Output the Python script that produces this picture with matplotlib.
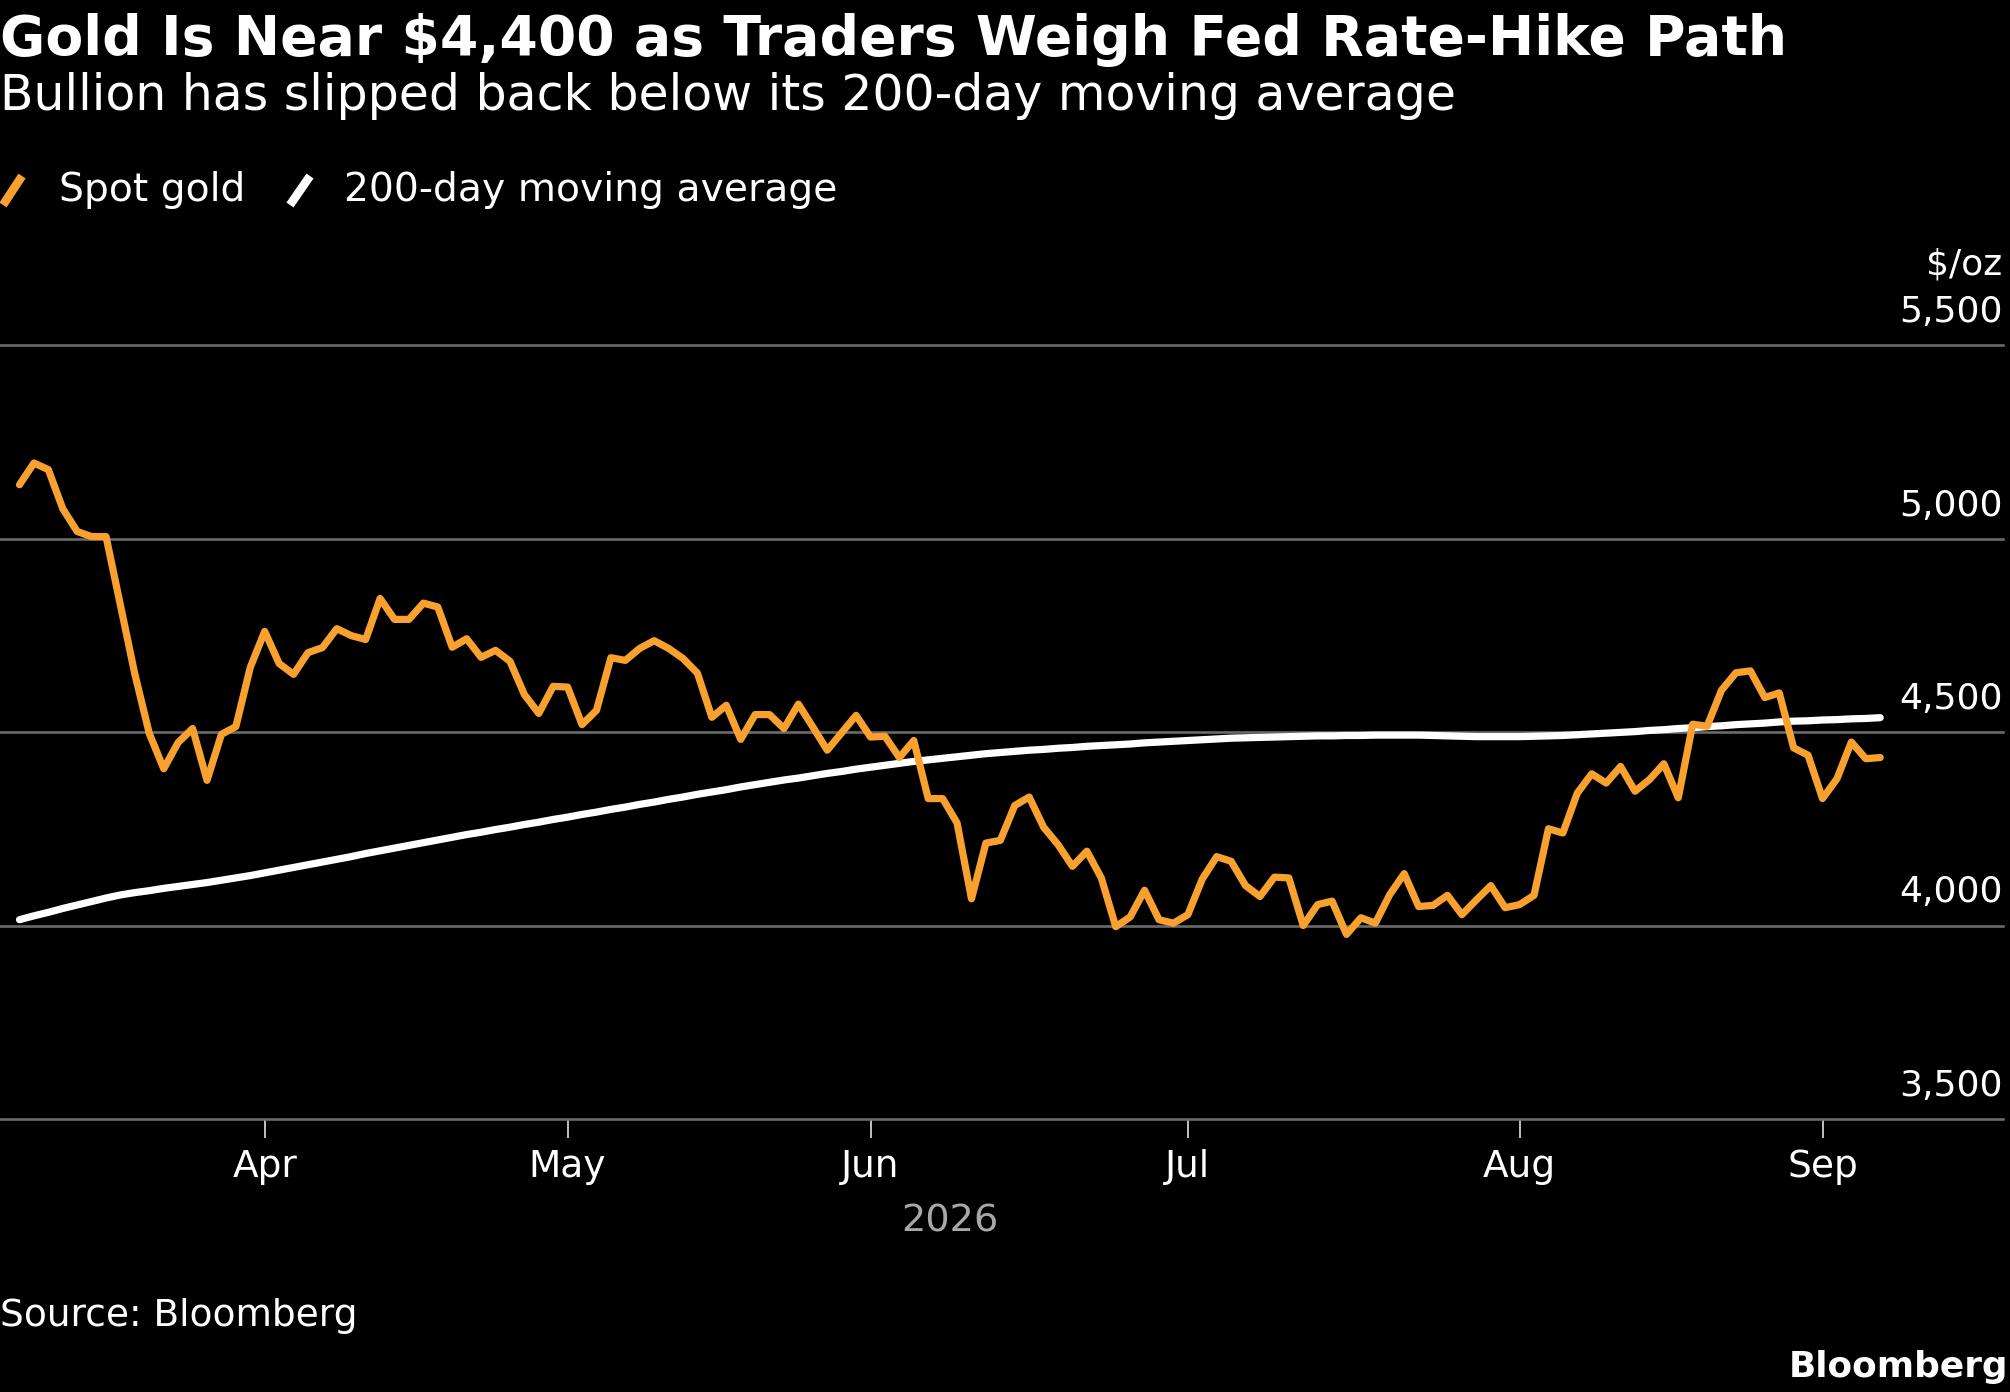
import matplotlib
matplotlib.use("Agg")
import matplotlib.pyplot as plt
import matplotlib.transforms as mtransforms
from matplotlib.lines import Line2D
import numpy as np
import pandas as pd

plt.rcParams['font.family'] = ['DejaVu Sans']

# ---------------- data ----------------
start_date = "2026-03-09"
end_date = "2026-09-07"
market_holidays = ["2026-04-03"]

spot_gold = [
    5139, 5195, 5178, 5077, 5018, 5005, 5005, 4827, 4649, 4496,
    4405, 4473, 4509, 4375, 4494, 4514, 4667, 4760, 4677, 4649,
    4705, 4718, 4767, 4749, 4739, 4845, 4791, 4791, 4833, 4823,
    4719, 4741, 4693, 4711, 4683, 4597, 4548, 4618, 4616, 4519,
    4556, 4692, 4685, 4716, 4736, 4716, 4690, 4652, 4538, 4569,
    4481, 4545, 4545, 4509, 4572, 4513, 4453, 4498, 4543, 4487,
    4489, 4434, 4478, 4328, 4328, 4265, 4069, 4213, 4220, 4310,
    4332, 4254, 4209, 4153, 4192, 4123, 3997, 4022, 4091, 4015,
    4006, 4028, 4120, 4178, 4166, 4103, 4075, 4125, 4123, 4000,
    4054, 4063, 3977, 4020, 4006, 4080, 4134, 4049, 4052, 4078,
    4028, 4066, 4103, 4046, 4054, 4078, 4250, 4239, 4342, 4392,
    4368, 4411, 4347, 4377, 4418, 4330, 4520, 4515, 4608, 4653,
    4658, 4589, 4601, 4459, 4440, 4328, 4379, 4474, 4431, 4434,
]

moving_avg_200d = [
    4015, 4025, 4034, 4044, 4053, 4062, 4071, 4079, 4085, 4090,
    4096, 4101, 4106, 4111, 4117, 4123, 4129, 4136, 4143, 4150,
    4157, 4164, 4171, 4178, 4186, 4193, 4200, 4207, 4214, 4221,
    4228, 4235, 4241, 4248, 4254, 4261, 4267, 4274, 4280, 4287,
    4293, 4300, 4306, 4313, 4319, 4326, 4332, 4339, 4345, 4351,
    4358, 4364, 4370, 4376, 4381, 4387, 4393, 4398, 4404, 4409,
    4414, 4419, 4424, 4428, 4432, 4436, 4440, 4444, 4447, 4450,
    4453, 4455, 4458, 4460, 4463, 4465, 4467, 4469, 4472, 4474,
    4476, 4478, 4480, 4482, 4484, 4485, 4486, 4487, 4488, 4489,
    4490, 4490, 4491, 4491, 4492, 4492, 4492, 4492, 4491, 4490,
    4489, 4488, 4488, 4488, 4488, 4489, 4490, 4491, 4493, 4495,
    4497, 4499, 4501, 4504, 4506, 4509, 4511, 4514, 4516, 4519,
    4521, 4523, 4526, 4528, 4529, 4531, 4532, 4534, 4535, 4537,
]

y_ticks = [3500, 4000, 4500, 5000, 5500]
month_labels = ["Apr", "May", "Jun", "Jul", "Aug", "Sep"]
year_label = "2026"

title = "Gold Is Near $4,400 as Traders Weigh Fed Rate-Hike Path"
subtitle = "Bullion has slipped back below its 200-day moving average"
legend_labels = ["Spot gold", "200-day moving average"]
unit_label = "$/oz"
source = "Source: Bloomberg"
brand = "Bloomberg"

# ---------------- dates -> trading-day positions ----------------
dates = pd.bdate_range(start_date, end_date)
dates = dates[~dates.isin(pd.to_datetime(market_holidays))]
x = np.arange(len(dates))

tick_pos = []
for lab in month_labels:
    idx = np.where(dates.strftime("%b") == lab)[0][0]
    tick_pos.append(x[idx])

# ---------------- style ----------------
BG = "black"
ORANGE = "#F9A12E"
WHITE = "#FFFFFF"
GRID = "#6a6a6a"

W, H = 2010, 1392
fig = plt.figure(figsize=(W / 100, H / 100), dpi=100, facecolor=BG)

ax_left, ax_right = 0, 2003
ax_top, ax_bottom = 345, 1119
ax = fig.add_axes([ax_left / W, 1 - ax_bottom / H,
                   (ax_right - ax_left) / W, (ax_bottom - ax_top) / H])
ax.set_facecolor(BG)

# x scale: index 0 at 19.5 px, 14.424 px per trading day
px_per_day = 14.424
x0_px = 19.5
ax.set_xlim(-x0_px / px_per_day, (ax_right - ax_left - x0_px) / px_per_day)
ax.set_ylim(y_ticks[0], y_ticks[-1])

ax.plot(x, moving_avg_200d, color=WHITE, lw=5.2, solid_capstyle="round",
        solid_joinstyle="round", zorder=3)
ax.plot(x, spot_gold, color=ORANGE, lw=5.2, solid_capstyle="round",
        solid_joinstyle="round", zorder=4)

for s in ax.spines.values():
    s.set_visible(False)

ax.set_yticks(y_ticks)
ax.yaxis.grid(True, color=GRID, lw=1.9)
for gl in ax.get_ygridlines():
    gl.set_clip_on(False)
ax.tick_params(axis="y", length=0, labelleft=False, labelright=False)

ax.set_xticks(tick_pos)
ax.set_xticklabels(month_labels)
ax.tick_params(axis="x", direction="out", length=13.7, width=1.3,
               color="#d0d0d0", labelcolor=WHITE, labelsize=27, pad=8)
ax.set_axisbelow(True)

# y labels above gridlines, right aligned
ytrans = mtransforms.offset_copy(ax.get_yaxis_transform(), fig=fig,
                                 x=0, y=23, units="dots")
for v in y_ticks:
    ax.text(1.0, v, f"{v:,}", transform=ytrans, ha="right", va="baseline",
            color=WHITE, fontsize=26)

# year label centred under the data span
ytr = mtransforms.blended_transform_factory(ax.transData, fig.transFigure)
ax.text((x[0] + x[-1]) / 2, 1 - 1231 / H, year_label, transform=ytr,
        ha="center", va="baseline", color="#a8a8a8", fontsize=27.5)

# ---------------- texts ----------------
fig.text(0 / W, 1 - 55 / H, title, ha="left", va="baseline",
         color=WHITE, fontsize=39.8, fontweight="bold")
fig.text(0 / W, 1 - 110 / H, subtitle, ha="left", va="baseline",
         color=WHITE, fontsize=35.2)

# legend
leg_base = 1 - 201 / H
fig.add_artist(Line2D([3 / W, 22 / W], [1 - 205 / H, 1 - 176 / H],
                      color=ORANGE, lw=6.2, solid_capstyle="butt"))
fig.text(59 / W, leg_base, legend_labels[0], ha="left", va="baseline",
         color=WHITE, fontsize=28.3)
fig.add_artist(Line2D([290 / W, 310 / W], [1 - 205 / H, 1 - 176 / H],
                      color=WHITE, lw=6.2, solid_capstyle="butt"))
fig.text(344 / W, leg_base, legend_labels[1], ha="left", va="baseline",
         color=WHITE, fontsize=28.3)

fig.text(2002 / W, 1 - 275 / H, unit_label, ha="right", va="baseline",
         color=WHITE, fontsize=26)

fig.text(0 / W, 1 - 1326 / H, source, ha="left", va="baseline",
         color=WHITE, fontsize=27)
fig.text(2008 / W, 1 - 1377 / H, brand, ha="right", va="baseline",
         color=WHITE, fontsize=25.8, fontweight="bold")

fig.savefig("out.png", dpi=100, facecolor=BG)
